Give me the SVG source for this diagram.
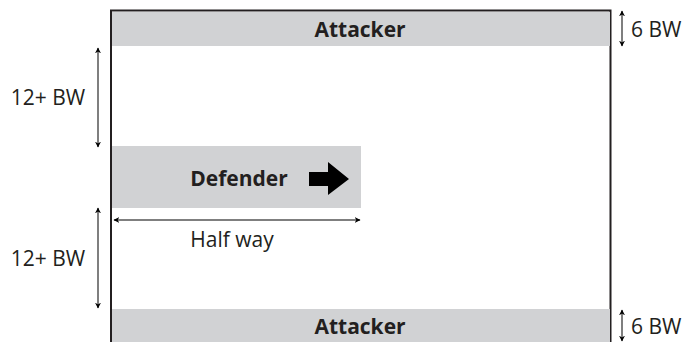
<svg xmlns="http://www.w3.org/2000/svg" width="686" height="342" viewBox="0 0 686 342">
<style>
.band{fill:#d1d2d4}
.bold{font-family:"Open Sans","Liberation Sans",sans-serif;font-weight:bold;font-size:21px;fill:#231f20}
.lbl{font-family:"Open Sans","Liberation Sans",sans-serif;font-size:21px;fill:#231f20}
.dim{stroke:#555;stroke-width:1.5;fill:none;marker-start:url(#ah);marker-end:url(#ah)}
</style>
<defs>
<marker id="ah" viewBox="0 0 10 10" refX="9" refY="5" markerWidth="6" markerHeight="6" orient="auto-start-reverse" markerUnits="userSpaceOnUse">
<path d="M0,0 L10,5 L0,10 L3,5 Z" fill="#000"/>
</marker>
</defs>
<rect width="686" height="342" fill="#fff"/>
<g id="field">
<path d="M111,343 V10.5 H610.5 V343" fill="none" stroke="#231f20" stroke-width="2"/>
</g>
<g id="attacker-top">
<rect class="band" x="112" y="12" width="498" height="34"/>
<text class="bold" x="360" y="37" text-anchor="middle">Attacker</text>
</g>
<g id="defender">
<rect class="band" x="112" y="146" width="249" height="62"/>
<text class="bold" x="239" y="186" text-anchor="middle">Defender</text>
<polygon points="309,172 328,172 328,162 349,179 328,195 328,186 309,186" fill="#000"/>
</g>
<g id="attacker-bottom">
<rect class="band" x="112" y="309" width="498" height="34"/>
<text class="bold" x="360" y="334" text-anchor="middle">Attacker</text>
</g>
<g id="connectors">
<line class="dim" x1="98" y1="48" x2="98" y2="147"/>
<line class="dim" x1="98" y1="208" x2="98" y2="308"/>
<line class="dim" x1="114" y1="220" x2="360" y2="220"/>
<line class="dim" x1="622" y1="11" x2="622" y2="46"/>
<line class="dim" x1="622" y1="310" x2="622" y2="341"/>
</g>
<g id="labels">
<text class="lbl" x="48" y="105" text-anchor="middle">12+ BW</text>
<text class="lbl" x="48" y="266" text-anchor="middle">12+ BW</text>
<text class="lbl" x="232" y="247" text-anchor="middle">Half way</text>
<text class="lbl" x="631" y="37">6 BW</text>
<text class="lbl" x="631" y="334">6 BW</text>
</g>
</svg>
